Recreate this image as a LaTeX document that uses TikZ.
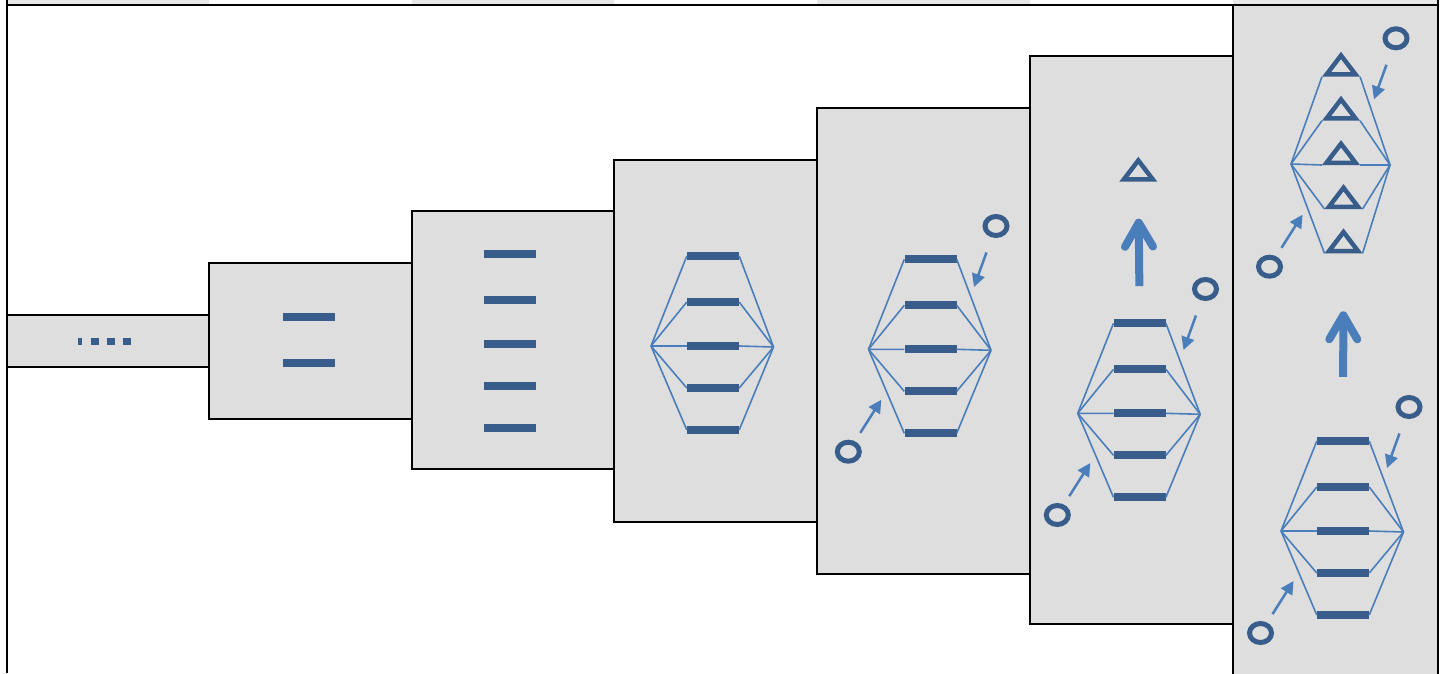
\documentclass[tikz,border=0pt]{standalone}
\usetikzlibrary{arrows.meta,shapes.geometric}
\definecolor{barblue}{RGB}{56,93,138}
\definecolor{lineblue}{RGB}{74,126,187}
\definecolor{cellgray}{RGB}{222,222,222}
\definecolor{stripgray}{RGB}{232,232,232}
\begin{document}
\begin{tikzpicture}
  [
    x=1pt,y=-1pt,
    inner sep=0pt,
    stage/.style={rectangle,draw=black,line width=2pt,fill=cellgray,outer sep=0pt,anchor=north west},
    bar/.style={rectangle,fill=barblue,minimum width=52pt,minimum height=8pt},
    tri/.style={isosceles triangle,isosceles triangle stretches,shape border rotate=90,
      draw=barblue,line width=4.5pt,minimum width=29pt,minimum height=19pt,anchor=lower side},
    ring/.style={ellipse,draw=barblue,line width=5pt,minimum width=22pt,minimum height=19pt},
    link/.style={draw=lineblue,line width=1.6pt},
    hop/.style={draw=lineblue,line width=2.5pt,-{Triangle[length=13pt,width=13pt]}},
    lift/.style={draw=lineblue,line width=8pt,-{Straight Barb[length=24pt,width=28pt,round]}},
  ]
  \clip (0,0) rectangle (1443,673);
  \fill[stripgray] (8,0) rectangle (209,4) (412,0) rectangle (614,4)
    (817,0) rectangle (1030,4) (1233,0) rectangle (1438,4);

  % stages
  \node[stage,minimum width=202pt,minimum height=52pt]  (s1) at (7,315) {};
  \node[stage,minimum width=203pt,minimum height=156pt] (s2) at (209,263) {};
  \node[stage,minimum width=202pt,minimum height=258pt] (s3) at (412,211) {};
  \node[stage,minimum width=203pt,minimum height=362pt] (s4) at (614,160) {};
  \node[stage,minimum width=213pt,minimum height=466pt] (s5) at (817,108) {};
  \node[stage,minimum width=203pt,minimum height=568pt] (s6) at (1030,56) {};
  \node[stage,minimum width=205pt,minimum height=680pt] (s7) at (1233,5) {};
  \draw[line width=2pt] (7,0) -- (7,673) (7,5) -- (1438,5) (1438,0) -- (1438,673);

  \draw[barblue,line width=7.3pt,dash pattern=on 4pt off 8.3pt on 8pt off 8pt on 8pt off 8pt on 8pt off 50pt]
    (78.3,341.7) -- (130.7,341.7);

  \node[bar] (b1) at (309,316.7) {};
  \node[bar] (b2) at (309,362.7) {};

  \node[bar] (c1) at (509.7,254) {};
  \node[bar] (c2) at (509.7,300.3) {};
  \node[bar] (c3) at (509.7,344) {};
  \node[bar] (c4) at (509.7,386) {};
  \node[bar] (c5) at (509.7,428) {};

  % bar hexagons
  \foreach \h/\x/\y in {d/713/346,e/930.5/349.3,f/1139.7/413.3,g/1343/531}
  {
    \foreach \k/\dy in {1/-90,2/-44,3/0,4/42,5/84}
      \node[bar] (\h\k) at (\x,\y+\dy) {};
    \coordinate (\h-l) at (\x-62,\y);
    \coordinate (\h-r) at (\x+60.5,\y+1);
    \foreach \k in {1,...,5}
      \draw[link] (\h-l) -- (\h\k.west) (\h\k.east) -- (\h-r);
  }

  % triangles
  \node[tri] (tf) at (1138.3,181.7) {};
  \node[tri] (t1) at (1341,76.7) {};
  \node[tri] (t2) at (1341,120.7) {};
  \node[tri] (t3) at (1341,165) {};
  \node[tri] (t4) at (1343.5,209) {};
  \node[tri] (t5) at (1343.5,253.3) {};
  \coordinate (t-l) at (1291,164);
  \coordinate (t-r) at (1390,165);
  \foreach \k in {1,...,5}
    \draw[link] (t-l) -- (t\k.left corner) (t\k.right corner) -- (t-r);

  % rings
  \foreach \h/\x/\y in {e/996/226,f/1205.5/289,g/1409/407,t/1396/38.3}
  {
    \node[ring] (\h-o) at (\x,\y) {};
    \coordinate (\h-a) at (\x-22,\y+61);
    \draw[hop,shorten <=16pt] (\h-o) -- (\h-a);
  }
  \foreach \h/\x/\y in {e/848.3/451.7,f/1057.3/515,g/1260.5/633,t/1269.5/266.7}
  {
    \node[ring] (\h-i) at (\x,\y) {};
    \coordinate (\h-b) at (\x+33,\y-52);
    \draw[hop,shorten <=10pt] (\h-i) -- (\h-b);
  }

  \draw[lift,shorten <=33pt,shorten >=37pt] (f1.north) -- (tf.lower side);
  \draw[lift,shorten <=60pt,shorten >=58pt] (g1.north) -- (t5.lower side);
\end{tikzpicture}
\end{document}
